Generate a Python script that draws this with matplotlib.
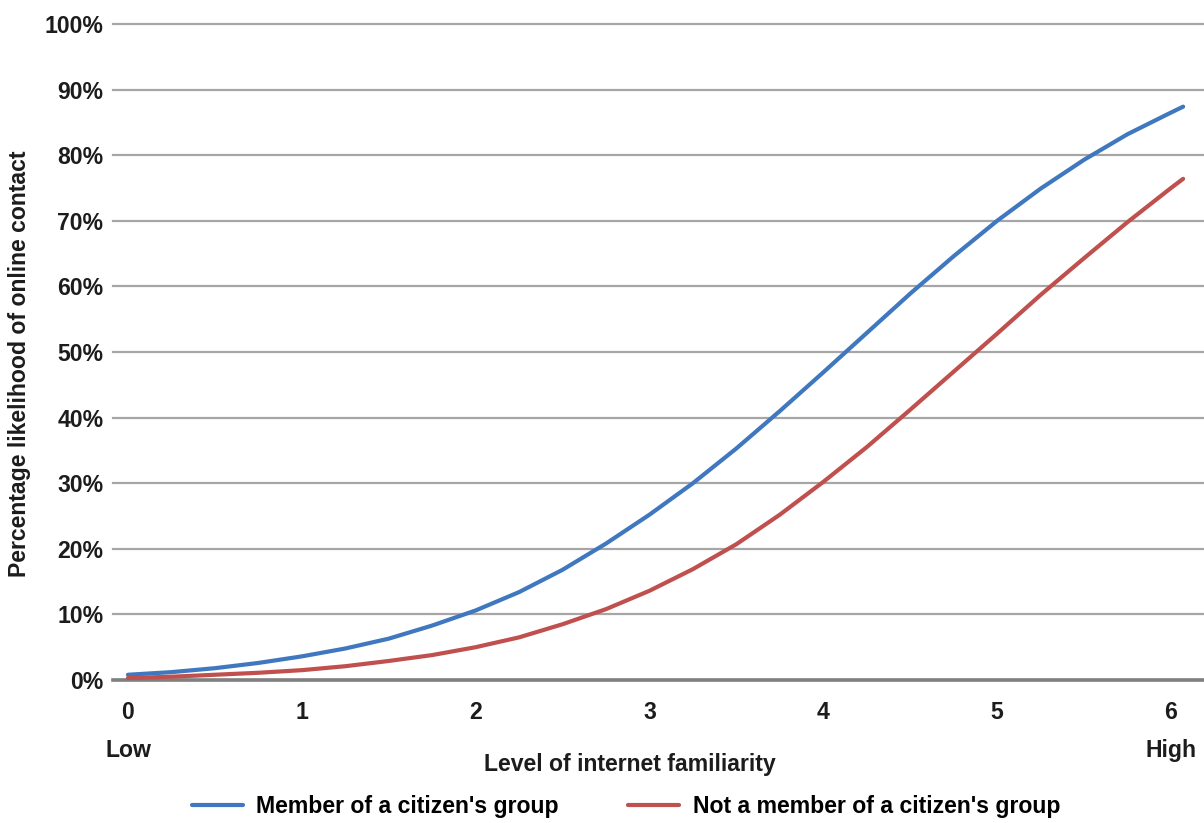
import matplotlib
matplotlib.use("Agg")
import matplotlib.pyplot as plt

# Data
familiarity = [0, 0.25, 0.5, 0.75, 1.0, 1.25, 1.5, 1.75, 2.0, 2.25, 2.5, 2.75, 3.0,
               3.25, 3.5, 3.75, 4.0, 4.25, 4.5, 4.75, 5.0, 5.25, 5.5, 5.75, 6.0, 6.07]
member = [0.8, 1.2, 1.8, 2.6, 3.6, 4.8, 6.3, 8.3, 10.6, 13.4, 16.8, 20.8, 25.2,
          30.0, 35.3, 41.0, 46.9, 52.9, 58.9, 64.6, 70.0, 74.9, 79.3, 83.2, 86.5, 87.4]
non_member = [0.3, 0.5, 0.8, 1.1, 1.5, 2.1, 2.9, 3.8, 5.0, 6.5, 8.5, 10.8, 13.6,
              16.9, 20.7, 25.2, 30.2, 35.5, 41.2, 47.0, 52.8, 58.7, 64.3, 69.8, 75.0, 76.4]
x_ticks = [0, 1, 2, 3, 4, 5, 6]
x_tick_labels = ["0\nLow", "1", "2", "3", "4", "5", "6\nHigh"]
y_ticks = [0, 10, 20, 30, 40, 50, 60, 70, 80, 90, 100]
y_tick_labels = [f"{v}%" for v in y_ticks]
series_names = ["Member of a citizen's group", "Not a member of a citizen's group"]

plt.rcParams['font.family'] = ['Liberation Sans', 'DejaVu Sans']
plt.rcParams['font.weight'] = 'bold'

FS = 16.6
TXT = '#1c1c1c'
W, H = 1204, 823
fig = plt.figure(figsize=(W / 100, H / 100), dpi=100)
left, right, top, bottom = 113, 1204, 24, 680
ax = fig.add_axes([left / W, (H - bottom) / H, (right - left) / W, (bottom - top) / H])

blue = '#3f78bf'
red = '#c0504d'
l1, = ax.plot(familiarity, member, color=blue, lw=3.0, solid_capstyle='round',
              solid_joinstyle='round', zorder=3)
l2, = ax.plot(familiarity, non_member, color=red, lw=3.0, solid_capstyle='round',
              solid_joinstyle='round', zorder=3)

ax.set_xlim(-0.086, 6.19)
ax.set_ylim(0, 100)
for s in ax.spines.values():
    s.set_visible(False)

for v in y_ticks:
    if v == 0:
        ax.axhline(v, color='#7f7f7f', lw=2.6, zorder=2, clip_on=False)
    else:
        ax.axhline(v, color='#a6a6a6', lw=1.6, zorder=1, clip_on=False)

ax.set_yticks(y_ticks)
ax.set_yticklabels(y_tick_labels, fontsize=FS, fontweight='bold', color=TXT)
ax.set_xticks(x_ticks)
ax.set_xticklabels(x_tick_labels, fontsize=FS, fontweight='bold', color=TXT,
                   linespacing=1.85)
ax.tick_params(axis='both', length=0)
ax.tick_params(axis='y', pad=7)
ax.tick_params(axis='x', pad=15)

fig.text(630 / W, 1 - 764 / H, "Level of internet familiarity",
         ha='center', va='center', fontsize=FS, fontweight='bold', color=TXT)
fig.text(20 / W, 1 - 364 / H, "Percentage likelihood of online contact",
         ha='center', va='center', rotation=90, fontsize=FS, fontweight='bold', color=TXT)

fig.legend([l1, l2], series_names, loc='center', ncol=2,
           bbox_to_anchor=(626 / W, 1 - 807 / H), frameon=False,
           prop={'size': FS, 'weight': 'bold'}, handlelength=2.2,
           handletextpad=0.6, columnspacing=3.0)

fig.savefig('out.png', dpi=100)
